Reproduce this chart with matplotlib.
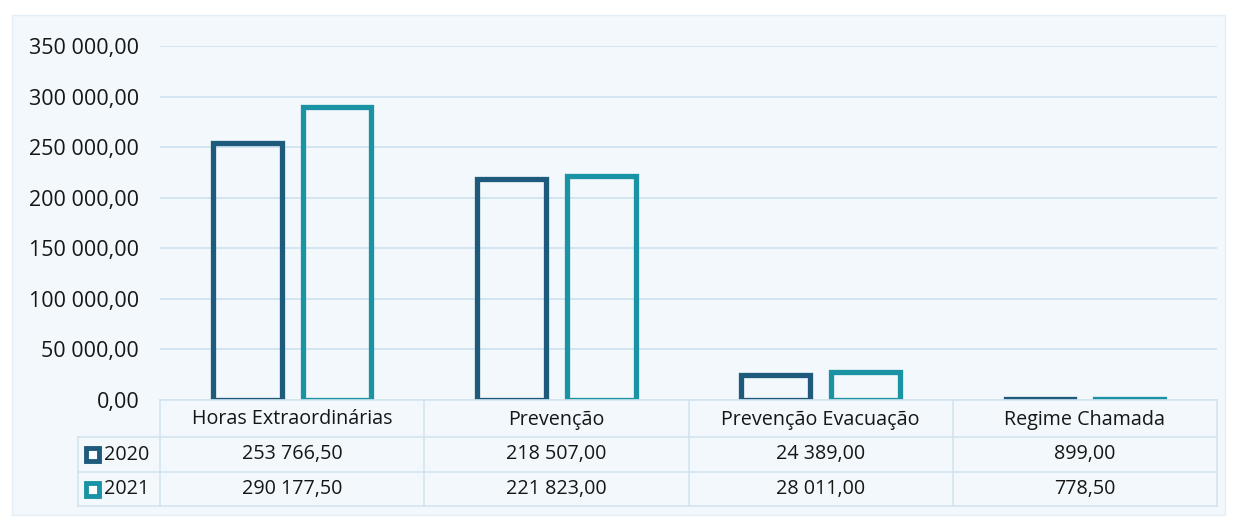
import matplotlib
matplotlib.use("Agg")
import matplotlib.pyplot as plt
from matplotlib.patches import Rectangle
from matplotlib.lines import Line2D

categories = ["Horas Extraordinárias", "Prevenção", "Prevenção Evacuação", "Regime Chamada"]
series_names = ["2020", "2021"]
values_2020 = [253766.50, 218507.00, 24389.00, 899.00]
values_2021 = [290177.50, 221823.00, 28011.00, 778.50]
yticks = [0, 50000, 100000, 150000, 200000, 250000, 300000, 350000]

colors = ["#1e5a7c", "#1a93a4"]
grid_c = "#cfe3ef"
bg = "#f2f8fb"
txt_c = "#161616"
font = ["Open Sans", "DejaVu Sans"]
plt.rcParams["font.family"] = font


def fmt(v):
    s = f"{v:,.2f}"
    return s.replace(",", " ").replace(".", ",")


W, H = 1237, 517
fig = plt.figure(figsize=(W / 100, H / 100), dpi=100, facecolor="white")
fig.patches.append(Rectangle((12 / W, 2 / H), 1213 / W, 500 / H, transform=fig.transFigure,
                             facecolor=bg, edgecolor="#e4eff5", lw=1, zorder=-5))

x0, x1 = 160, 1217
ytop, ybot = 46, 400
ax = fig.add_axes([x0 / W, 1 - ybot / H, (x1 - x0) / W, (ybot - ytop) / H])
ax.set_facecolor("none")
ax.set_xlim(-0.5, len(categories) - 0.5)
ax.set_ylim(0, 350000)
for sp in ax.spines.values():
    sp.set_visible(False)
ax.set_yticks(yticks)
ax.set_yticklabels([fmt(t) for t in yticks], fontsize=15.5, color=txt_c)
ax.tick_params(axis="y", length=0, pad=15)
ax.set_xticks([])
ax.grid(axis="y", color=grid_c, lw=1.3)
ax.set_axisbelow(True)

xs = list(range(len(categories)))
bw, off = 0.26, 0.17
for vals, c, d in [(values_2020, colors[0], -off), (values_2021, colors[1], off)]:
    ax.bar([x + d for x in xs], vals, width=bw, facecolor="none", edgecolor=c, lw=3.8, zorder=3)

# Data table
tc = "#d3e4ee"
rows_y = [400, 437, 472, 506]
col_x = [x0 + i * (x1 - x0) / 4 for i in range(5)]
leg_x = 78
fs = 14.2


def fy(y):
    return 1 - y / H


def fx(x):
    return x / W


def hline(xa, xb, y):
    fig.add_artist(Line2D([fx(xa), fx(xb)], [fy(y), fy(y)], color=tc, lw=1.2))


def vline(x, ya, yb):
    fig.add_artist(Line2D([fx(x), fx(x)], [fy(ya), fy(yb)], color=tc, lw=1.2))


hline(x0, x1, rows_y[0])
for y in rows_y[1:]:
    hline(leg_x, x1, y)
for cx in col_x:
    vline(cx, rows_y[0], rows_y[-1])
vline(leg_x, rows_y[1], rows_y[-1])

for i, cat in enumerate(categories):
    cxm = (col_x[i] + col_x[i + 1]) / 2
    fig.text(fx(cxm), fy((rows_y[0] + rows_y[1]) / 2 + 1), cat, ha="center", va="center",
             fontsize=fs, color=txt_c)
    for r, vals in enumerate([values_2020, values_2021]):
        fig.text(fx(cxm), fy((rows_y[r + 1] + rows_y[r + 2]) / 2), fmt(vals[i]), ha="center",
                 va="center", fontsize=fs, color=txt_c)

for r, (name, c) in enumerate(zip(series_names, colors)):
    yc = (rows_y[r + 1] + rows_y[r + 2]) / 2
    s = 13
    fig.add_artist(Rectangle((fx(86), fy(yc + s / 2)), s / W, s / H, transform=fig.transFigure,
                             facecolor="white", edgecolor=c, lw=3.5))
    fig.text(fx(104), fy(yc), name, ha="left", va="center", fontsize=fs, color=txt_c)

fig.savefig("out.png", dpi=100, facecolor=fig.get_facecolor())
